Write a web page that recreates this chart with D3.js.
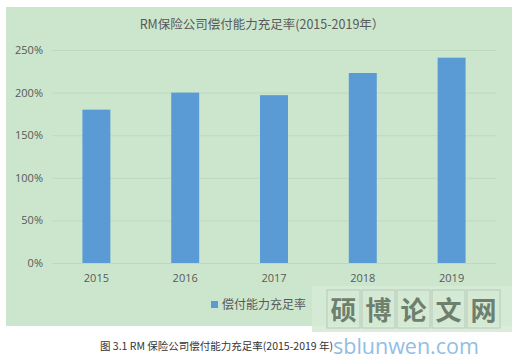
<!DOCTYPE html>
<html>
<head>
<meta charset="utf-8">
<script src="https://cdn.jsdelivr.net/npm/d3@7"></script>
<style>
  body { margin: 0; background: #fff; }
  svg { display: block; }
</style>
</head>
<body>
<script>
// chart data
var years = ["2015", "2016", "2017", "2018", "2019"];
var ratios = [1.80, 2.00, 1.97, 2.23, 2.41];
var yTicks = [0, 0.5, 1.0, 1.5, 2.0, 2.5];
var title = "RM保险公司偿付能力充足率(2015-2019年）";
var seriesName = "偿付能力充足率";
var caption = "图 3.1 RM 保险公司偿付能力充足率(2015-2019 年)";
var markChars = ["硕", "博", "论", "文", "网"];

var width = 514, height = 362;
var margin = {top: 50, right: 18, bottom: 99, left: 52};

var svg = d3.select("body")
    .append("svg")
    .attr("width", width)
    .attr("height", height);

// green chart area
svg.append("rect")
    .attr("x", 6).attr("y", 7)
    .attr("width", 506).attr("height", 319)
    .attr("fill", "#cce6cd");

var x = d3.scaleBand()
    .domain(years)
    .range([margin.left, width - margin.right])
    .paddingInner(0.685)
    .paddingOuter(0.3425);

var y = d3.scaleLinear()
    .domain([0, 2.5])
    .range([height - margin.bottom, margin.top]);

var fmt = d3.format(".0%");

// gridlines
svg.append("g")
    .selectAll("line")
    .data(yTicks)
    .enter().append("line")
    .attr("x1", margin.left)
    .attr("x2", width - margin.right)
    .attr("y1", function(d) { return y(d) + 0.5; })
    .attr("y2", function(d) { return y(d) + 0.5; })
    .attr("stroke", "#bfd9c0")
    .attr("stroke-width", 1);

// y axis labels
var yAxis = d3.axisLeft(y).tickValues(yTicks).tickFormat(fmt).tickSize(0).tickPadding(9);
var gy = svg.append("g")
    .attr("transform", "translate(" + margin.left + ",0)")
    .call(yAxis);
gy.select(".domain").remove();
gy.selectAll("text")
    .attr("font-family", "Open Sans, sans-serif")
    .attr("font-size", "11px")
    .attr("fill", "#595959");

// x axis labels
var xAxis = d3.axisBottom(x).tickSize(0).tickPadding(11);
var gx = svg.append("g")
    .attr("transform", "translate(0," + y(0) + ")")
    .call(xAxis);
gx.select(".domain").remove();
gx.selectAll("text")
    .attr("font-family", "Open Sans, sans-serif")
    .attr("font-size", "11px")
    .attr("fill", "#595959");

// bars
svg.append("g")
    .selectAll("rect")
    .data(ratios)
    .enter().append("rect")
    .attr("x", function(d, i) { return x(years[i]); })
    .attr("y", function(d) { return y(d); })
    .attr("width", x.bandwidth())
    .attr("height", function(d) { return y(0) - y(d); })
    .attr("fill", "#5b9bd5");

// title
svg.append("text")
    .attr("x", 262)
    .attr("y", 29)
    .attr("text-anchor", "middle")
    .attr("font-family", "Noto Sans CJK SC, sans-serif")
    .attr("font-size", "12.5px")
    .attr("fill", "#595959")
    .text(title);

// legend
svg.append("rect")
    .attr("x", 211).attr("y", 301)
    .attr("width", 7).attr("height", 7)
    .attr("fill", "#5b9bd5");
svg.append("text")
    .attr("x", 222)
    .attr("y", 309)
    .attr("font-family", "Noto Sans CJK SC, sans-serif")
    .attr("font-size", "12px")
    .attr("fill", "#595959")
    .text(seriesName);

// caption
svg.append("text")
    .attr("x", 100)
    .attr("y", 350)
    .attr("font-family", "Noto Sans CJK SC, sans-serif")
    .attr("font-size", "10.5px")
    .attr("fill", "#333")
    .text(caption);

// watermark
var wm = svg.append("g");
wm.append("rect")
    .attr("x", 312).attr("y", 286)
    .attr("width", 200).attr("height", 46)
    .attr("fill", "#d6ead6")
    .attr("opacity", 0.9);
wm.selectAll("rect.cell")
    .data(markChars)
    .enter().append("rect")
    .attr("class", "cell")
    .attr("x", function(d, i) { return 327 + i * 35; })
    .attr("y", 290)
    .attr("width", 33).attr("height", 38)
    .attr("fill", "none")
    .attr("stroke", "#b8c8b8")
    .attr("stroke-width", 1);
wm.selectAll("text.ch")
    .data(markChars)
    .enter().append("text")
    .attr("class", "ch")
    .attr("x", function(d, i) { return 343.5 + i * 35; })
    .attr("y", 320)
    .attr("text-anchor", "middle")
    .attr("font-family", "Noto Sans CJK SC, sans-serif")
    .attr("font-weight", "bold")
    .attr("font-size", "26px")
    .attr("fill", "#6e7f6e")
    .text(function(d) { return d; });
wm.append("text")
    .attr("x", 333)
    .attr("y", 354)
    .attr("font-family", "Open Sans, sans-serif")
    .attr("font-size", "21.5px")
    .attr("fill", "#7fb3e0")
    .attr("opacity", 0.85)
    .text("sblunwen.com");
</script>
</body>
</html>
